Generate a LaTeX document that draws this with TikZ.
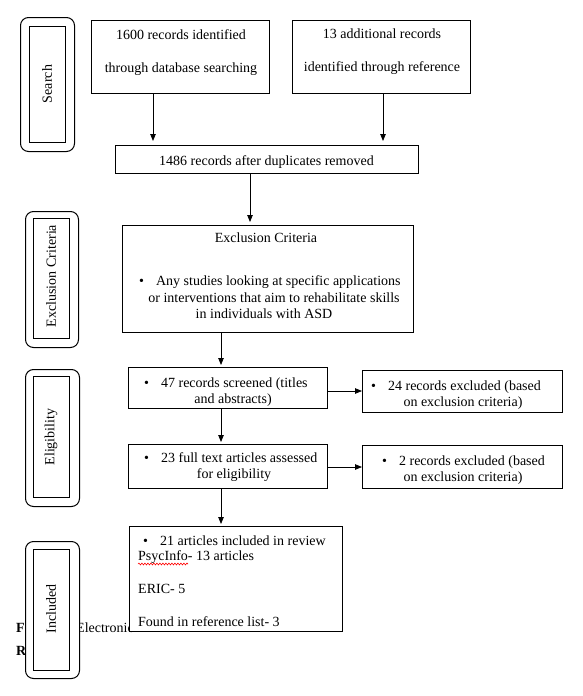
\documentclass[tikz,border=0pt]{standalone}
\usepackage{fontspec}
\setmainfont{Liberation Serif}
\usetikzlibrary{arrows.meta,decorations.pathmorphing}
\tikzset{
  box/.style={draw, line width=0.8pt, fill=white, inner sep=0pt, anchor=north west},
  sidebox/.style={draw, line width=1pt, fill=white, rounded corners=8pt, inner sep=0pt, anchor=north west},
  innerbox/.style={draw, line width=0.8pt, fill=white, inner sep=0pt, anchor=north west},
  txt/.style={inner sep=0pt, anchor=base},
  ltxt/.style={inner sep=0pt, anchor=base west},
  vlab/.style={inner sep=0pt, rotate=90},
  arr/.style={-{Triangle[length=7pt,width=5.5pt]}, line width=0.8pt},
}
\newcommand{\bul}{\textbullet\hspace{12pt}}
\begin{document}
\begin{tikzpicture}[x=1pt,y=-1pt,font=\fontsize{14}{16}\selectfont]
\useasboundingbox (0,0) rectangle (582,696);
% caption fragments (behind)
\node[ltxt, font=\fontsize{14}{16}\selectfont\bfseries] (capF) at (16,632) {F};
\node[ltxt, font=\fontsize{14}{16}\selectfont\bfseries] (capR) at (16,655) {R};
\node[ltxt] (capE) at (76,632) {Electronic};
% side labels
\node[sidebox, minimum width=54pt, minimum height=134pt] (sS) at (20,17) {};
\node[innerbox, minimum width=36pt, minimum height=116pt] (sSi) at (29,26) {};
\node[vlab] (sSt) at (47,84) {Search};
\node[sidebox, minimum width=53pt, minimum height=136pt] (sX) at (25,211) {};
\node[innerbox, minimum width=36pt, minimum height=120pt] (sXi) at (33,218) {};
\node[vlab] (sXt) at (51,276) {Exclusion Criteria};
\node[sidebox, minimum width=54pt, minimum height=137pt] (sE) at (25,369) {};
\node[innerbox, minimum width=36pt, minimum height=121pt] (sEi) at (33,376) {};
\node[vlab] (sEt) at (51,437) {Eligibility};
\node[sidebox, minimum width=54pt, minimum height=137pt] (sI) at (25,541) {};
\node[innerbox, minimum width=36pt, minimum height=121pt] (sIi) at (33,549) {};
\node[vlab] (sIt) at (51,609) {Included};
% boxes
\node[box, minimum width=178pt, minimum height=73pt] (A) at (91,20) {};
\node[txt] (a1) at (181,39) {1600 records identified};
\node[txt] (a2) at (181,72) {through database searching};
\node[box, minimum width=178pt, minimum height=73pt] (B) at (292,20) {};
\node[txt] (b1) at (382,38) {13 additional records};
\node[txt] (b2) at (382,71) {identified through reference};
\node[box, minimum width=303pt, minimum height=28pt] (C) at (115,145) {};
\node[txt] (c1) at (266.5,165) {1486 records after duplicates removed};
\node[box, minimum width=291pt, minimum height=107pt] (D) at (122,225) {};
\node[txt] (d0) at (266,242) {Exclusion Criteria};
\node[ltxt] (d1) at (139,285) {\bul Any studies looking at specific applications};
\node[txt] (d2) at (274,302) {or interventions that aim to rehabilitate skills};
\node[txt] (d3) at (264,318) {in individuals with ASD};
\node[box, minimum width=199pt, minimum height=41pt] (E) at (128,367) {};
\node[ltxt] (e1) at (144,387) {\bul 47 records screened (titles};
\node[txt] (e2) at (233,403) {and abstracts)};
\node[box, minimum width=200pt, minimum height=42pt] (F) at (362,370) {};
\node[ltxt] (f1) at (371,390) {\bul 24 records excluded (based};
\node[txt] (f2) at (463,406) {on exclusion criteria)};
\node[box, minimum width=199pt, minimum height=44pt] (G) at (128,444) {};
\node[ltxt] (g1) at (144,462) {\bul 23 full text articles assessed};
\node[txt] (g2) at (234,478) {for eligibility};
\node[box, minimum width=200pt, minimum height=43pt] (H) at (362,445) {};
\node[ltxt] (h1) at (382,465) {\bul 2 records excluded (based};
\node[txt] (h2) at (463,481) {on exclusion criteria)};
\node[box, minimum width=213pt, minimum height=105pt] (I) at (129,526) {};
\node[ltxt] (i1) at (143,545) {\bul 21 articles included in review};
\node[ltxt] (i2) at (138,560) {PsycInfo- 13 articles};
\node[ltxt] (i3) at (138,593) {ERIC- 5};
\node[ltxt] (i4) at (138,626) {Found in reference list- 3};
\draw[red, line width=0.6pt, decorate, decoration={snake, amplitude=0.9pt, segment length=3pt}] (i2.base west) ++(0,4) -- ++(50,0);
% connector x/y references
\coordinate (xa) at (153,0);
\coordinate (xb) at (383,0);
\coordinate (xc) at (250,0);
\coordinate (xd) at (221,0);
\coordinate (ye) at (0,391);
\coordinate (yg) at (0,467);
% connectors
\draw[arr, shorten >=4pt] (A.south -| xa) -- (C.north -| xa);
\draw[arr, shorten >=4pt] (B.south -| xb) -- (C.north -| xb);
\draw[arr, shorten >=3pt] (C.south -| xc) -- (D.north -| xc);
\draw[arr, shorten >=2pt] (D.south -| xd) -- (E.north -| xd);
\draw[arr, shorten >=2pt] (E.south -| xd) -- (G.north -| xd);
\draw[arr, shorten >=2pt] (G.south -| xd) -- (I.north -| xd);
\draw[arr] (E.east |- ye) -- (F.west |- ye);
\draw[arr] (G.east |- yg) -- (H.west |- yg);
\end{tikzpicture}
\end{document}
